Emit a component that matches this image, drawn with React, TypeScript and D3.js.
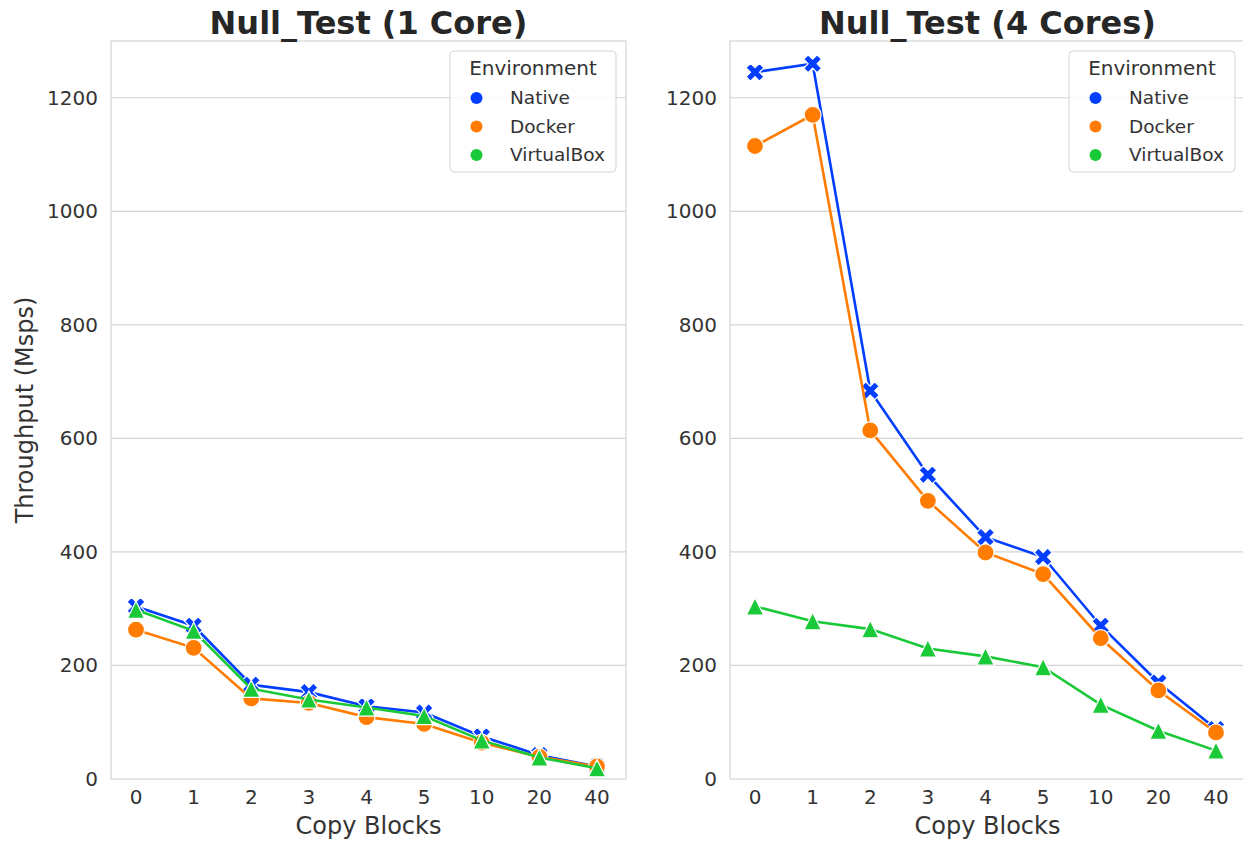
import React from "react";
import * as d3 from "d3";

const categories = ["0", "1", "2", "3", "4", "5", "10", "20", "40"];
const seriesNames = ["Native", "Docker", "VirtualBox"];
const colors = ["#023eff", "#ff7c00", "#1ac938"];
const yTicks = [0, 200, 400, 600, 800, 1000, 1200];

// 1 Core
const native1 = [304, 270, 166, 153, 128, 117, 75, 42, 22];
const docker1 = [263, 231, 142, 134, 109, 97, 64, 39, 22];
const vbox1 = [298, 261, 159, 140, 126, 111, 68, 38, 19];

// 4 Cores
const native4 = [1245, 1260, 684, 536, 426, 391, 270, 170, 88];
const docker4 = [1115, 1170, 614, 490, 399, 361, 248, 156, 82];
const vbox4 = [304, 278, 264, 230, 216, 197, 131, 85, 50];

const panels = [
  { title: "Null_Test (1 Core)", series: [native1, docker1, vbox1], x0: 111, x1: 626, showYLabel: true },
  { title: "Null_Test (4 Cores)", series: [native4, docker4, vbox4], x0: 730, x1: 1245, showYLabel: false },
];

const TOP = 41;
const BOTTOM = 779;
const FONT = "'DejaVu Sans', sans-serif";
const TEXT = "#333333";
const GRID = "#d4d4d4";

function markerPath(kind: number, s: number): string {
  if (kind === 1) {
    return d3.symbol(d3.symbolCircle, Math.PI * s * s)() as string;
  }
  if (kind === 2) {
    const h = s;
    return `M0,${-h}L${h},${h}L${-h},${h}Z`;
  }
  // filled X (plus rotated 45°)
  const a = s / 2.83;
  const pts: [number, number][] = [
    [-a, -3 * a], [a, -3 * a], [a, -a], [3 * a, -a], [3 * a, a], [a, a],
    [a, 3 * a], [-a, 3 * a], [-a, a], [-3 * a, a], [-3 * a, -a], [-a, -a],
  ];
  const c = Math.SQRT1_2;
  const rot = pts.map(([x, y]) => [x * c - y * c, x * c + y * c]);
  return "M" + rot.map((p) => p.join(",")).join("L") + "Z";
}

function Panel({ p }: { p: (typeof panels)[number] }) {
  const x = d3.scalePoint<string>().domain(categories).range([p.x0 + 25, p.x1 - 29]);
  const y = d3.scaleLinear().domain([0, 1300]).range([BOTTOM, TOP]);
  const line = d3
    .line<number>()
    .x((_, i) => x(categories[i]) as number)
    .y((d) => y(d));
  const cx = (p.x0 + p.x1) / 2;
  const lgRight = p.x1 - 10;
  const lgLeft = lgRight - 166;
  return (
    <g>
      {yTicks.map((t) => (
        <g key={t}>
          {t > 0 && <line x1={p.x0} x2={p.x1} y1={y(t)} y2={y(t)} stroke={GRID} strokeWidth={1.2} />}
          <text x={p.x0 - 13} y={y(t)} dy="0.35em" textAnchor="end" fontSize={20} fill={TEXT} fontFamily={FONT}>
            {t}
          </text>
        </g>
      ))}
      <rect x={p.x0} y={TOP} width={p.x1 - p.x0} height={BOTTOM - TOP} fill="none" stroke={GRID} strokeWidth={1.2} />
      {categories.map((c) => (
        <text key={c} x={x(c)} y={BOTTOM + 25} textAnchor="middle" fontSize={20} fill={TEXT} fontFamily={FONT}>
          {c}
        </text>
      ))}
      <text x={cx} y={834} textAnchor="middle" fontSize={24} fill={TEXT} fontFamily={FONT}>
        Copy Blocks
      </text>
      {p.showYLabel && (
        <text
          transform={`translate(33,${(TOP + BOTTOM) / 2}) rotate(-90)`}
          textAnchor="middle"
          fontSize={24}
          fill={TEXT}
          fontFamily={FONT}
        >
          Throughput (Msps)
        </text>
      )}
      <text x={cx} y={34} textAnchor="middle" fontSize={32} fontWeight="bold" fill="#262626" fontFamily={FONT}>
        {p.title}
      </text>
      {p.series.map((vals, si) => (
        <g key={si}>
          <path d={line(vals) as string} fill="none" stroke={colors[si]} strokeWidth={2.6} />
          {vals.map((v, i) => (
            <path
              key={i}
              d={markerPath(si === 0 ? 0 : si === 1 ? 1 : 2, si === 0 ? 9 : si === 1 ? 8.5 : 8.6)}
              transform={`translate(${x(categories[i])},${y(v)})`}
              fill={colors[si]}
              stroke="#ffffff"
              strokeWidth={1.2}
            />
          ))}
        </g>
      ))}
      <g>
        <rect x={lgLeft} y={51} width={166} height={121} rx={4} fill="#ffffff" fillOpacity={0.8} stroke={GRID} strokeWidth={1} />
        <text x={(lgLeft + lgRight) / 2} y={68} dy="0.35em" textAnchor="middle" fontSize={20} fill={TEXT} fontFamily={FONT}>
          Environment
        </text>
        {seriesNames.map((n, i) => (
          <g key={n}>
            <circle cx={lgLeft + 26.5} cy={98 + i * 28.5} r={6} fill={colors[i]} />
            <text x={lgLeft + 60} y={98 + i * 28.5} dy="0.35em" fontSize={18.5} fill={TEXT} fontFamily={FONT}>
              {n}
            </text>
          </g>
        ))}
      </g>
    </g>
  );
}

export default function App() {
  return (
    <svg width={1243} height={842} style={{ position: "absolute", left: 0, top: 0, background: "#ffffff" }}>
      <rect width={1243} height={842} fill="#ffffff" />
      {panels.map((p) => (
        <Panel key={p.title} p={p} />
      ))}
    </svg>
  );
}
